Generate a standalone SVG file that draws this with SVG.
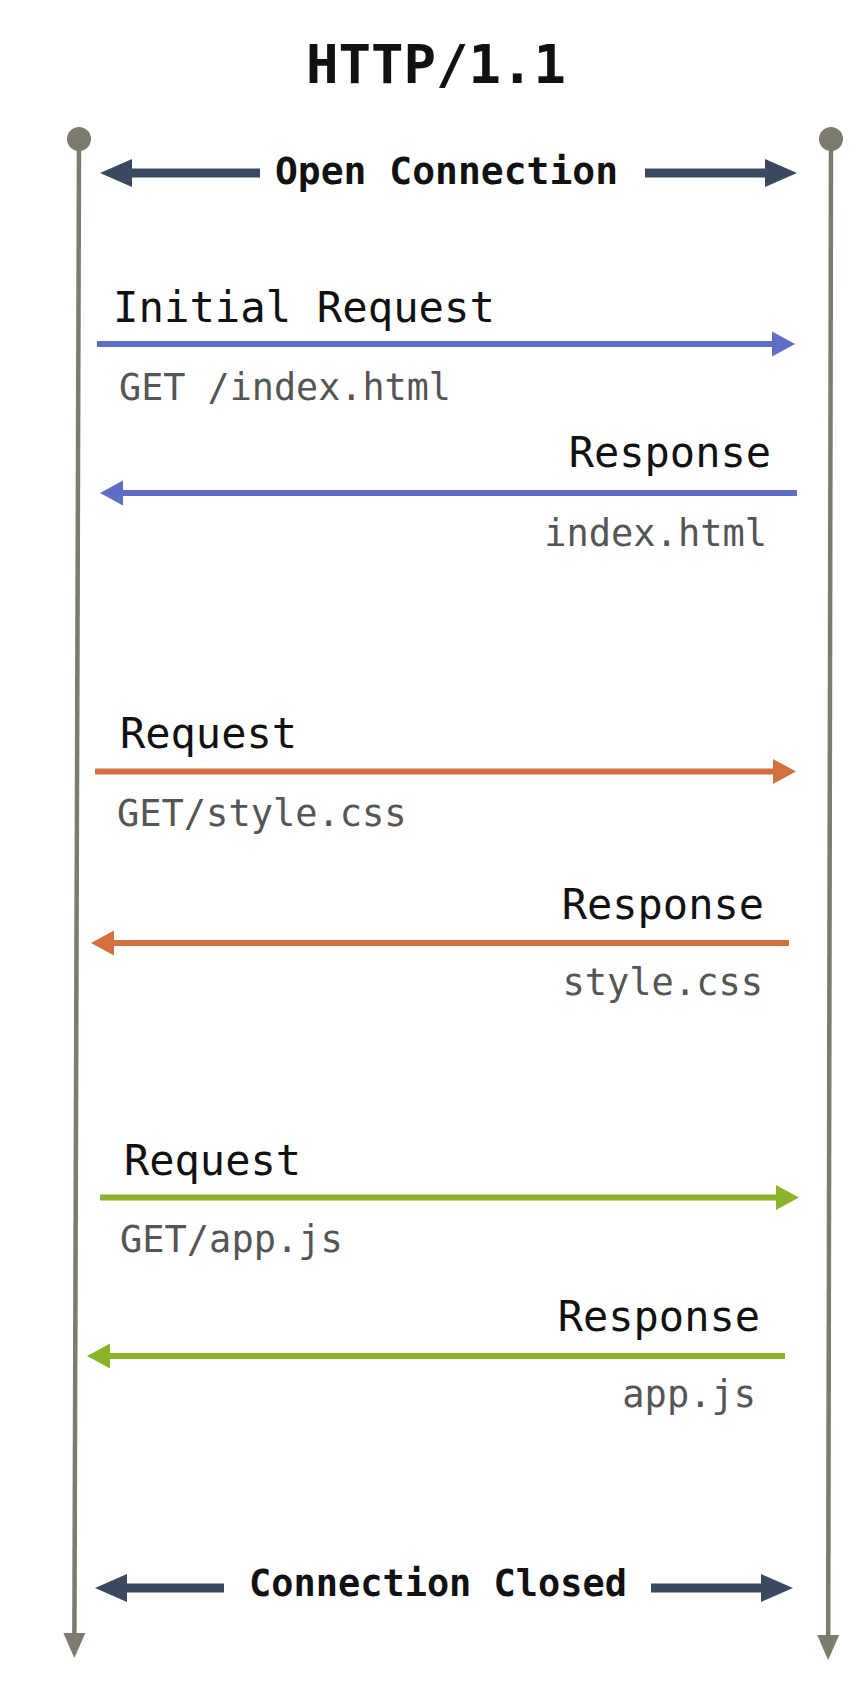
<svg xmlns="http://www.w3.org/2000/svg" width="868" height="1700" viewBox="0 0 868 1700">
<style>
.title{font-family:"DejaVu Sans Mono","Liberation Mono",monospace;font-weight:bold;font-size:54px;fill:#111}
.bold{font-family:"DejaVu Sans Mono","Liberation Mono",monospace;font-weight:bold;font-size:38px;fill:#111}
.head{font-family:"DejaVu Sans Mono","Liberation Mono",monospace;font-size:42px;fill:#111}
.code{font-family:"DejaVu Sans Mono","Liberation Mono",monospace;font-size:37px;fill:#555}
.life{stroke:#7d7b6e;stroke-width:4.5;fill:none}
.blue{stroke:#5e6dc6;stroke-width:6}
.orange{stroke:#d4703d;stroke-width:6}
.green{stroke:#8cb42a;stroke-width:6}
.navy{stroke:#3a4960;stroke-width:9}
</style>
<defs>
<marker id="mLife" markerUnits="userSpaceOnUse" markerWidth="25" markerHeight="22" refX="0" refY="11" orient="auto" overflow="visible"><path d="M0,0 L25,11 L0,22 z" fill="#7d7b6e"/></marker>
<marker id="mBlue" markerUnits="userSpaceOnUse" markerWidth="24" markerHeight="25" refX="0" refY="12.5" orient="auto" overflow="visible"><path d="M0,0 L23,12.5 L0,25 z" fill="#5e6dc6"/></marker>
<marker id="mOrange" markerUnits="userSpaceOnUse" markerWidth="24" markerHeight="25" refX="0" refY="12.5" orient="auto" overflow="visible"><path d="M0,0 L23,12.5 L0,25 z" fill="#d4703d"/></marker>
<marker id="mGreen" markerUnits="userSpaceOnUse" markerWidth="24" markerHeight="25" refX="0" refY="12.5" orient="auto" overflow="visible"><path d="M0,0 L23,12.5 L0,25 z" fill="#8cb42a"/></marker>
<marker id="mNavy" markerUnits="userSpaceOnUse" markerWidth="32" markerHeight="28" refX="0" refY="14" orient="auto" overflow="visible"><path d="M0,0 L32,14 L0,28 z" fill="#3a4960"/></marker>
</defs>
<rect width="868" height="1700" fill="#ffffff"/>
<g id="title"><text class="title" x="436" y="83" text-anchor="middle">HTTP/1.1</text></g>
<g id="client">
<circle cx="79" cy="139" r="12" fill="#7d7b6e"/>
</g>
<g id="server">
<circle cx="831" cy="139" r="12" fill="#7d7b6e"/>
</g>
<g id="connectors">
<line class="life" x1="79" y1="139" x2="74.4" y2="1633" marker-end="url(#mLife)"/>
<line class="life" x1="831" y1="139" x2="828.2" y2="1635" marker-end="url(#mLife)"/>
<line class="navy" x1="260" y1="173" x2="132" y2="173" marker-end="url(#mNavy)"/>
<line class="navy" x1="645" y1="173" x2="765" y2="173" marker-end="url(#mNavy)"/>
<line class="blue" x1="97" y1="344" x2="772" y2="344" marker-end="url(#mBlue)"/>
<line class="blue" x1="797" y1="493" x2="123" y2="493" marker-end="url(#mBlue)"/>
<line class="orange" x1="95" y1="771.5" x2="773" y2="771.5" marker-end="url(#mOrange)"/>
<line class="orange" x1="789" y1="943" x2="114" y2="943" marker-end="url(#mOrange)"/>
<line class="green" x1="100" y1="1197.5" x2="776" y2="1197.5" marker-end="url(#mGreen)"/>
<line class="green" x1="785" y1="1356" x2="110" y2="1356" marker-end="url(#mGreen)"/>
<line class="navy" x1="224" y1="1588" x2="127" y2="1588" marker-end="url(#mNavy)"/>
<line class="navy" x1="651" y1="1588" x2="761" y2="1588" marker-end="url(#mNavy)"/>
</g>
<g id="open-connection"><text class="bold" x="275" y="184" textLength="343" lengthAdjust="spacingAndGlyphs">Open Connection</text></g>
<g id="initial-request">
<text class="head" x="113" y="322" textLength="382" lengthAdjust="spacingAndGlyphs">Initial Request</text>
<text class="code" x="119" y="400" textLength="332" lengthAdjust="spacingAndGlyphs">GET /index.html</text>
</g>
<g id="response-html">
<text class="head" x="771" y="467" text-anchor="end">Response</text>
<text class="code" x="767" y="546" text-anchor="end">index.html</text>
</g>
<g id="request-css">
<text class="head" x="120" y="748">Request</text>
<text class="code" x="117" y="826">GET/style.css</text>
</g>
<g id="response-css">
<text class="head" x="764" y="919" text-anchor="end">Response</text>
<text class="code" x="763" y="995" text-anchor="end">style.css</text>
</g>
<g id="request-js">
<text class="head" x="124" y="1175">Request</text>
<text class="code" x="120" y="1252">GET/app.js</text>
</g>
<g id="response-js">
<text class="head" x="760" y="1331" text-anchor="end">Response</text>
<text class="code" x="756" y="1407" text-anchor="end">app.js</text>
</g>
<g id="connection-closed"><text class="bold" x="249" y="1596" textLength="378" lengthAdjust="spacingAndGlyphs">Connection Closed</text></g>
</svg>
